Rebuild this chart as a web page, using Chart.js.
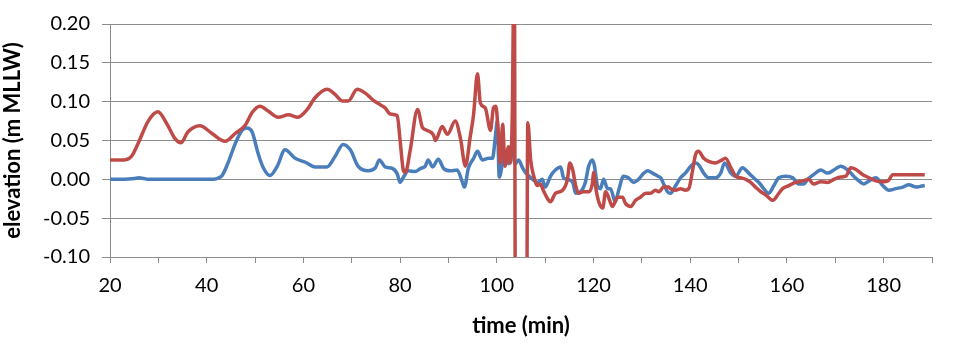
<!DOCTYPE html>
<html>
<head>
<meta charset="utf-8">
<script src="https://cdn.jsdelivr.net/npm/chart.js@4/dist/chart.umd.min.js"></script>
<style>
  html, body { margin: 0; padding: 0; background: #fff; }
  #wrap { width: 954px; height: 350px; }
</style>
</head>
<body>
<div id="wrap"><canvas id="tideChart" width="954" height="350"></canvas></div>
<script>
// blue record: time (min) and elevation (m MLLW)
const blueTime = [20, 23, 25, 26, 27, 28, 35, 41.5, 42.5, 43.2, 44.4, 45.9, 47.3, 48.3, 49.4, 50.6, 51.7, 53.1, 54.6, 56.2,
  58.3, 60.4, 62.4, 64.9, 66.6, 68.2, 69.7, 71.3, 73.4, 74.9, 75.7, 76.9, 78.4, 79.4, 80, 80.7, 81.7, 83.1, 84.2, 85.2,
  85.8, 86.7, 87.9, 89, 90.4, 91.8, 92.9, 93.3, 94.1, 95.2, 96, 97, 98.3, 99.1, 99.7, 100.1, 100.5, 101.2, 101.8, 102.4,
  103.2, 103.8, 104.5, 105.3, 105.9, 107.4, 108.4, 109.4, 110, 111.1, 112.1, 113.2, 113.8, 114.6, 115.7, 116.3, 117.3, 118.3, 119, 119.8,
  120.2, 120.8, 121.4, 122.1, 122.9, 123.5, 124.5, 125.2, 126.2, 127.2, 128.3, 129.3, 130.4, 131.2, 132.2, 133.3, 133.9, 134.5, 135.3, 135.9,
  137, 138, 139, 140.1, 141.1, 141.7, 142.8, 143.8, 145.2, 146.3, 147.1, 148.4, 149.4, 150.8, 152.1, 153.1, 154.2, 155.2, 156.2, 157.3,
  158.3, 159.8, 161.2, 162.4, 163.5, 164.3, 165.5, 167, 168.4, 169.7, 171.1, 172.6, 173.8, 175.3, 175.9, 177, 178.4, 179.8, 181.1, 182.5,
  184, 185.2, 186.7, 187.7, 188.5];
const blueElev = [0, 0, 0.001, 0.002, 0.001, 0, 0, 0, 0.002, 0.005, 0.021, 0.046, 0.063, 0.066, 0.061, 0.034, 0.015, 0.005, 0.017, 0.038,
  0.027, 0.022, 0.016, 0.016, 0.030, 0.045, 0.038, 0.017, 0.011, 0.015, 0.025, 0.016, 0.014, 0.007, -0.004, 0.003, 0.011, 0.010, 0.014, 0.017,
  0.025, 0.016, 0.026, 0.014, 0.011, 0.012, -0.004, -0.010, 0.014, 0.027, 0.036, 0.025, 0.027, 0.027, 0.055, 0.075, 0.003, 0.021, 0.035, 0.020,
  0.040, 0.020, 0.025, 0.015, 0.009, 0, -0.004, 0, -0.010, 0.004, 0.012, 0.016, 0.002, 0, -0.004, -0.018, -0.016, -0.004, 0.017, 0.025,
  0.017, -0.008, -0.012, 0, -0.012, -0.012, -0.029, -0.014, 0.004, 0.002, -0.004, 0, 0.008, 0.011, 0.008, 0.004, 0.002, -0.006, -0.016, -0.018,
  -0.008, 0.002, 0.008, 0.017, 0.021, 0.019, 0.008, 0.002, 0.002, 0.008, 0.021, 0.008, 0.004, 0.015, 0.008, 0.002, -0.004, -0.012, -0.018, -0.008,
  0.002, 0.004, 0.002, -0.006, -0.006, 0, 0.006, 0.012, 0.008, 0.012, 0.017, 0.012, 0.004, -0.004, -0.006, -0.002, 0.002, -0.008, -0.014, -0.012,
  -0.010, -0.007, -0.010, -0.009, -0.008];

// red record, including the out-of-range swing around 104-106 min
const redTime = [20, 23, 24.5, 25.8, 27.9, 29.9, 31.8, 33.5, 34.7, 36.1, 38.6, 41.1, 43.8, 45.9, 48, 49.4, 51, 52.7, 54.8, 56.9,
  58.9, 60.8, 62.4, 64.9, 66.6, 68, 69.3, 71.1, 72.8, 74.4, 75.9, 76.9, 78, 79.4, 80, 80.7, 81.1, 82.1, 83.6, 84.6,
  85.6, 86.9, 87.3, 88.7, 89.8, 91.4, 92.5, 93.5, 94.5, 95.2, 96, 96.6, 97.6, 98.7, 99.3, 99.8, 100.3, 100.7, 101.2, 101.7,
  102.4, 102.8, 103.2, 103.6, 103.9, 106.1, 106.4, 107, 107.6, 108.4, 109, 109.6, 110.5, 111.1, 112.1, 113.6, 114.6, 115.1, 115.7, 116.3,
  116.9, 117.9, 119, 119.8, 120, 120.6, 121.2, 121.9, 122.5, 123.1, 123.9, 125, 126, 126.6, 127.7, 128.7, 129.7, 130.8, 131.8, 132.8,
  133.5, 134.5, 135.5, 135.9, 137, 138, 139, 139.7, 140.5, 141.1, 141.7, 142.8, 143.8, 145.2, 146.3, 147.3, 148.4, 149.4, 150.4, 151.5,
  152.5, 153.5, 154.6, 155.6, 157.1, 158.1, 159.1, 160.4, 161.8, 163.3, 164.5, 165.5, 167, 168.4, 169.7, 171.1, 172.2, 173.2, 174.2, 175.7,
  177, 178.4, 179.8, 180.9, 181.9, 183, 188.5];
const redElev = [0.025, 0.025, 0.030, 0.046, 0.075, 0.087, 0.071, 0.052, 0.047, 0.061, 0.069, 0.059, 0.049, 0.059, 0.070, 0.086, 0.094, 0.088, 0.080, 0.083,
  0.080, 0.090, 0.105, 0.116, 0.109, 0.101, 0.101, 0.116, 0.111, 0.102, 0.096, 0.092, 0.084, 0.082, 0.050, 0.011, 0.009, 0.038, 0.090, 0.067,
  0.063, 0.057, 0.050, 0.068, 0.058, 0.075, 0.052, 0.017, 0.055, 0.084, 0.136, 0.098, 0.092, 0.063, 0.092, 0.094, 0.060, 0.021, 0.071, 0.017,
  0.042, 0.021, 0.084, 0.30, -0.30, -0.30, 0.073, 0.025, 0.005, -0.008, -0.006, -0.014, -0.025, -0.029, -0.018, -0.014, 0, 0.021, 0.012, -0.008,
  -0.018, -0.016, -0.016, -0.004, 0.009, -0.016, -0.031, -0.037, -0.016, -0.023, -0.035, -0.023, -0.023, -0.031, -0.035, -0.027, -0.023, -0.018, -0.018, -0.014,
  -0.016, -0.010, -0.010, -0.012, -0.014, -0.012, -0.014, -0.012, 0.012, 0.032, 0.036, 0.027, 0.023, 0.021, 0.024, 0.027, 0.015, 0.004, 0.002, 0,
  -0.004, -0.010, -0.016, -0.020, -0.027, -0.020, -0.012, -0.008, -0.004, -0.002, 0, -0.006, -0.003, -0.004, 0, 0.003, 0.004, 0.015, 0.013, 0.006,
  0.002, -0.002, -0.003, -0.002, 0.006, 0.006, 0.006];

const xTicksEvery = 20;
const yTickLabels = ["-0.10", "-0.05", "0.00", "0.05", "0.10", "0.15", "0.20"];

const toPoints = (xs, ys) => xs.map((x, i) => ({ x: x, y: ys[i] }));

const gridGrey = "#8c8c8c";
const fontFamily = "Lato, 'Open Sans', sans-serif";

const lineStyle = {
  borderWidth: 3.5,
  pointRadius: 0,
  cubicInterpolationMode: "monotone",
  fill: false,
  clip: 0,
};

new Chart(document.getElementById("tideChart"), {
  type: "line",
  data: {
    datasets: [
      { ...lineStyle, data: toPoints(blueTime, blueElev), borderColor: "#4a7ebb", order: 1 },
      { ...lineStyle, data: toPoints(redTime, redElev), borderColor: "#be4b48", order: 0 },
    ],
  },
  options: {
    responsive: false,
    animation: false,
    layout: { padding: { top: 18, right: 22, left: 0, bottom: 0 } },
    plugins: { legend: { display: false }, tooltip: { enabled: false } },
    scales: {
      x: {
        type: "linear",
        min: 20,
        max: 190,
        afterFit: (scale) => { scale.height = 93; },
        ticks: {
          stepSize: 10,
          autoSkip: false,
          maxRotation: 0,
          padding: 11,
          color: "#000",
          font: { family: fontFamily, size: 20 },
          callback: (v) => (v % xTicksEvery === 0 && v < 190 ? String(v) : ""),
        },
        grid: { drawOnChartArea: false, drawTicks: true, tickLength: 6, color: gridGrey },
        border: { color: gridGrey, width: 1 },
        title: {
          display: true,
          text: "time (min)",
          color: "#000",
          font: { family: fontFamily, size: 22, weight: "bold" },
          padding: { top: 4, bottom: 11 },
        },
      },
      y: {
        min: -0.1,
        max: 0.2,
        afterFit: (scale) => { scale.width = 110; },
        afterBuildTicks: (scale) => {
          scale.ticks = yTickLabels.map((s) => ({ value: parseFloat(s) }));
        },
        ticks: {
          padding: 12,
          color: "#000",
          font: { family: fontFamily, size: 20 },
          callback: (v) => v.toFixed(2),
        },
        grid: { color: gridGrey, tickLength: 8, lineWidth: 1 },
        border: { color: gridGrey, width: 1 },
        title: {
          display: true,
          text: "elevation (m MLLW)",
          color: "#000",
          font: { family: fontFamily, size: 22, weight: "bold" },
          padding: { top: 0, bottom: 0 },
        },
      },
    },
  },
});
</script>
</body>
</html>
